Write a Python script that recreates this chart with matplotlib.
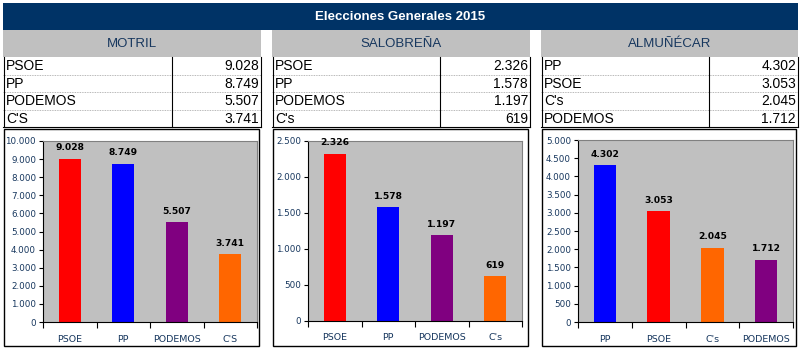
import matplotlib
matplotlib.use('Agg')
from matplotlib import pyplot as plt
from matplotlib.patches import Rectangle

titulo = 'Elecciones Generales 2015'
municipios = ['MOTRIL', 'SALOBREÑA', 'ALMUÑÉCAR']

motril_partidos = ['PSOE', 'PP', 'PODEMOS', "C'S"]
motril_votos = [9028, 8749, 5507, 3741]
salobrena_partidos = ['PSOE', 'PP', 'PODEMOS', "C's"]
salobrena_votos = [2326, 1578, 1197, 619]
almunecar_partidos = ['PP', 'PSOE', "C's", 'PODEMOS']
almunecar_votos = [4302, 3053, 2045, 1712]

colores_partido = {'PSOE': '#FF0000', 'PP': '#0000FF', 'PODEMOS': '#800080',
                   "C'S": '#FF6600', "C's": '#FF6600'}

limites_y = [10000, 2500, 5000]
pasos_y = [1000, 500, 500]

W, H = 800, 351
NAVY = '#17375E'


def miles(v):
    return f'{v:,}'.replace(',', '.')


def draw_table(ax, x0, x1, xsplit, nombre, partidos, votos):
    # cabecera gris
    ax.add_patch(Rectangle((x0, 30), x1 - x0, 27, facecolor='#C0C0C0',
                           edgecolor='none'))
    ax.text((x0 + x1) / 2, 44, nombre, ha='center', va='center',
            fontsize=9.5, color=NAVY, family='Liberation Sans')
    y_top = 57
    row_h = 17.5
    for i, (p, v) in enumerate(zip(partidos, votos)):
        yc = y_top + row_h * (i + 0.5)
        ax.text(x0 + 3, yc + 0.5, p, ha='left', va='center', fontsize=10,
                family='Liberation Sans', color='black')
        ax.text(x1 - 2, yc + 0.5, miles(v), ha='right', va='center',
                fontsize=10, family='Liberation Sans', color='black')
        if i > 0:
            ax.plot([x0, x1], [y_top + row_h * i] * 2, color='#A0A0A0',
                    lw=0.6, ls=(0, (1, 1)))
    y_bot = y_top + row_h * 4
    ax.plot([x0 + 0.5, x0 + 0.5], [y_top, y_bot], color='black', lw=0.8)
    ax.plot([x1 - 0.5, x1 - 0.5], [y_top, y_bot], color='black', lw=0.8)
    ax.plot([xsplit, xsplit], [y_top, y_bot], color='black', lw=0.8)
    ax.plot([x0, x1], [y_bot, y_bot], color='black', lw=0.8)


def draw_bars(fig, box, nombres, votos, ymax, paso):
    x0, y0, x1, y1 = box
    ax = fig.add_axes([x0 / W, 1 - y1 / H, (x1 - x0) / W, (y1 - y0) / H])
    ax.set_facecolor('#C0C0C0')
    pos = list(range(len(votos)))
    colores = [colores_partido[n] for n in nombres]
    ax.bar(pos, votos, width=0.42, color=colores, zorder=2)
    for x, v in zip(pos, votos):
        ax.text(x, v + ymax * 0.035, miles(v), ha='center', va='bottom',
                fontsize=6.6, fontweight='bold', color='black')
    ax.set_xlim(-0.5, len(votos) - 0.5)
    ax.set_ylim(0, ymax)
    ticks = list(range(0, ymax + 1, paso))
    ax.set_yticks(ticks)
    ax.set_yticklabels([miles(t) for t in ticks], fontsize=6.3, color=NAVY)
    ax.set_xticks(pos)
    ax.set_xticklabels(nombres, fontsize=6.8, color=NAVY)
    ax.set_xticks([p + 0.5 for p in [-1] + pos], minor=True)
    ax.tick_params(axis='x', which='major', length=0, pad=9)
    ax.tick_params(axis='x', which='minor', length=4, width=0.8,
                   direction='out', color='black')
    ax.tick_params(axis='y', length=3, width=0.8, pad=2, color='black')
    for s in ['top', 'right']:
        ax.spines[s].set_color('#808080')
        ax.spines[s].set_linewidth(0.8)
    for s in ['left', 'bottom']:
        ax.spines[s].set_color('black')
        ax.spines[s].set_linewidth(0.8)
    return ax


fig = plt.figure(figsize=(W / 100, H / 100), dpi=100)
base = fig.add_axes([0, 0, 1, 1])
base.set_xlim(0, W)
base.set_ylim(H, 0)
base.axis('off')

# barra de titulo
base.add_patch(Rectangle((3, 3), 795, 27, facecolor='#003366',
                         edgecolor='none'))
base.text(400, 16.5, titulo, ha='center', va='center', color='white',
          fontsize=9.5, fontweight='bold', family='Liberation Sans')

paneles = [
    (3, 261, 172, (43, 141, 257, 322)),
    (272, 530, 440, (308, 141, 522, 321)),
    (541, 798, 709, (578, 140, 793, 322)),
]
datos = [(motril_partidos, motril_votos),
         (salobrena_partidos, salobrena_votos),
         (almunecar_partidos, almunecar_votos)]

for i, ((x0, x1, xs, box), (partidos, votos)) in enumerate(zip(paneles, datos)):
    draw_table(base, x0, x1, xs, municipios[i], partidos, votos)
    # marco del grafico
    base.add_patch(Rectangle((x0 + 0.5, 128.5), x1 - x0 - 3, 217.5,
                             facecolor='white', edgecolor='black', lw=1.0))
    draw_bars(fig, box, partidos, votos, limites_y[i], pasos_y[i])

fig.savefig('out.png', dpi=100)
